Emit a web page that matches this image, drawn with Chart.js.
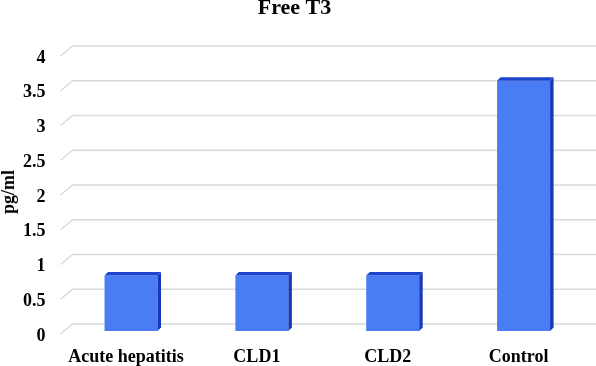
<!DOCTYPE html>
<html>
<head>
<meta charset="utf-8">
<script src="https://cdn.jsdelivr.net/npm/chart.js@4/dist/chart.umd.min.js"></script>
<style>
html,body{margin:0;padding:0;background:#fff;}
#wrap{width:596px;height:366px;}
</style>
</head>
<body>
<div id="wrap"><canvas id="c" width="596" height="366"></canvas></div>
<script>
const categories = ["Acute hepatitis", "CLD1", "CLD2", "Control"];
const freeT3 = [0.8, 0.8, 0.8, 3.6];
const yTicks = [0, 0.5, 1, 1.5, 2, 2.5, 3, 3.5, 4];
const chartTitle = "Free T3";
const yTitle = "pg/ml";

const FONT = "'Liberation Serif', 'Times New Roman', serif";
const FRONT = "#4a7cf4";
const SIDE = "#1838b8";
const TOP = "#1c45cc";
const GRID = "#d6dcda";

const grid3d = {
  id: 'grid3d',
  beforeDatasetsDraw(chart) {
    const ctx = chart.ctx, y = chart.scales.y, a = chart.chartArea;
    ctx.save();
    ctx.strokeStyle = GRID;
    ctx.lineWidth = 1.5;
    yTicks.forEach(v => {
      const py = y.getPixelForValue(v);
      ctx.beginPath();
      ctx.moveTo(a.left - 5, py + 3);
      ctx.lineTo(a.left + 7, py - 7);
      ctx.lineTo(chart.width, py - 7);
      ctx.stroke();
    });
    ctx.restore();
  }
};

const bar3d = {
  id: 'bar3d',
  afterDatasetsDraw(chart) {
    const ctx = chart.ctx, d = 3.5;
    chart.getDatasetMeta(0).data.forEach(b => {
      const l = b.x - b.width / 2, r = b.x + b.width / 2, t = b.y, bs = b.base;
      ctx.save();
      ctx.fillStyle = SIDE;
      ctx.beginPath();
      ctx.moveTo(r, t); ctx.lineTo(r + d, t - d); ctx.lineTo(r + d, bs - d); ctx.lineTo(r, bs);
      ctx.closePath(); ctx.fill();
      ctx.fillStyle = TOP;
      ctx.beginPath();
      ctx.moveTo(l, t); ctx.lineTo(l + d, t - d); ctx.lineTo(r + d, t - d); ctx.lineTo(r, t);
      ctx.closePath(); ctx.fill();
      ctx.restore();
    });
  }
};

new Chart(document.getElementById('c'), {
  type: 'bar',
  data: {
    labels: categories,
    datasets: [{ data: freeT3, backgroundColor: FRONT, borderWidth: 0, barPercentage: 0.405, categoryPercentage: 1 }]
  },
  plugins: [grid3d, bar3d],
  options: {
    responsive: false,
    animation: false,
    devicePixelRatio: 1,
    layout: { padding: { left: 0, right: 7, top: 0, bottom: 0 } },
    plugins: {
      legend: { display: false },
      tooltip: { enabled: false },
      title: {
        display: true, text: chartTitle, color: '#000',
        font: { family: FONT, size: 22, weight: 'bold', lineHeight: 0.8 },
        padding: { top: 0, bottom: 35.4 }
      }
    },
    scales: {
      x: {
        grid: { display: false, drawTicks: false },
        border: { display: false },
        ticks: { color: '#000', font: { family: FONT, size: 18, weight: 'bold' }, padding: 16, labelOffset: -5, maxRotation: 0 },
        afterFit(s) { s.height = 35; }
      },
      y: {
        min: 0, max: 4,
        afterBuildTicks(s) { s.ticks = yTicks.map(v => ({ value: v })); },
        grid: { display: false, drawTicks: false },
        border: { display: false },
        ticks: { color: '#000', font: { family: FONT, size: 18, weight: 'bold' }, padding: 20, labelOffset: 5,
                 callback: v => String(v) },
        title: { display: true, text: yTitle, color: '#000', font: { family: FONT, size: 18, weight: 'bold', lineHeight: 1 }, padding: 0 },
        afterFit(s) { s.width = 65.6; }
      }
    }
  }
});
</script>
</body>
</html>
